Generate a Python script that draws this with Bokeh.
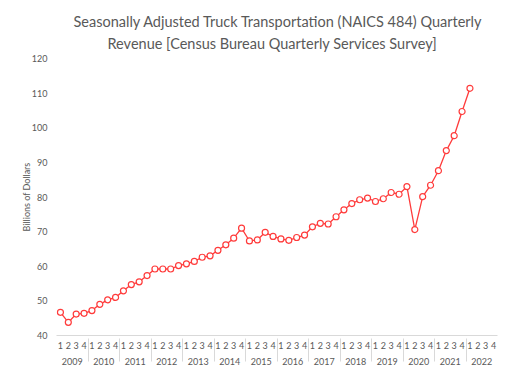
from bokeh.plotting import figure
from bokeh.models import FactorRange, Range1d, FixedTicker, ColumnDataSource, Title
from bokeh.embed import file_html
from bokeh.resources import INLINE

years = [str(y) for y in range(2009, 2023)]
quarters = ["1", "2", "3", "4"]
revenue = [46.7, 43.8, 46.2, 46.4,
           47.2, 49.0, 50.3, 51.0,
           52.9, 54.7, 55.5, 57.3,
           59.2, 59.2, 59.2, 60.2,
           60.7, 61.4, 62.6, 63.0,
           64.6, 66.2, 68.1, 71.0,
           67.3, 67.6, 69.8, 68.6,
           67.9, 67.5, 68.3, 69.0,
           71.4, 72.4, 72.2, 74.3,
           76.3, 78.1, 79.2, 79.7,
           78.7, 79.5, 81.3, 80.8,
           83.0, 70.6, 80.1, 83.4,
           87.6, 93.4, 97.7, 104.7,
           111.4]
y_ticks = [40, 50, 60, 70, 80, 90, 100, 110, 120]
title_lines = ["Seasonally Adjusted Truck Transportation (NAICS 484) Quarterly",
               "Revenue [Census Bureau Quarterly Services Survey]"]

factors = [(y, q) for y in years for q in quarters]
src = ColumnDataSource(dict(x=factors[:len(revenue)], y=revenue))

FONT = "Lato"
GRAY = "#595959"
LINE = "#d9d9d9"
RED = "#FF3B3B"

W, H = 512, 378
L, R, T, B = 56, 15, 58, 43
Y0, Y1 = 40, 120

p = figure(width=W, height=H, output_backend="svg", toolbar_location=None,
           x_range=FactorRange(*factors, factor_padding=0, group_padding=0, range_padding=0),
           y_range=Range1d(Y0, Y1),
           min_border_left=L, min_border_right=R, min_border_top=T, min_border_bottom=B)
p.styles = {"outline": "1px solid #d9d9d9", "outline-offset": "-4px"}

# two centred title lines (left-aligned with offsets from the frame's left edge)
for txt, off, standoff in [(title_lines[1], 51, 13), (title_lines[0], 17, -7)]:
    p.add_layout(Title(text=txt, align="left", offset=off, standoff=standoff,
                       text_font=FONT, text_font_size="14.5px", text_font_style="normal",
                       text_color=GRAY), "above")

p.grid.grid_line_color = None
p.outline_line_color = None

p.yaxis.ticker = FixedTicker(ticks=y_ticks)
p.yaxis.axis_line_color = None
p.yaxis.major_tick_line_color = None
p.yaxis.major_tick_out = 0
p.yaxis.minor_tick_line_color = None
p.yaxis.major_label_text_color = GRAY
p.yaxis.major_label_text_font = FONT
p.yaxis.major_label_text_font_size = "9px"
p.yaxis.major_label_standoff = 9
p.yaxis.axis_label = "Billions of Dollars"
p.yaxis.axis_label_text_font = FONT
p.yaxis.axis_label_text_font_size = "9px"
p.yaxis.axis_label_text_font_style = "normal"
p.yaxis.axis_label_text_color = GRAY
p.yaxis.axis_label_standoff = -3

xa = p.xaxis[0]
xa.axis_line_color = LINE
xa.major_tick_line_color = None
xa.major_tick_out = 0
xa.major_label_text_color = GRAY
xa.major_label_text_font = FONT
xa.major_label_text_font_size = "9px"
xa.major_label_standoff = 6
xa.group_text_color = GRAY
xa.group_text_font = FONT
xa.group_text_font_size = "9px"
xa.group_text_font_style = "normal"
xa.separator_line_color = LINE
xa.separator_line_width = 1

p.line(x="x", y="y", source=src, line_color=RED, line_width=1.3)
p.scatter(x="x", y="y", source=src, marker="circle", size=6,
          fill_color="white", line_color=RED, line_width=1.2)

open("out.html", "w").write(file_html(p, INLINE))
